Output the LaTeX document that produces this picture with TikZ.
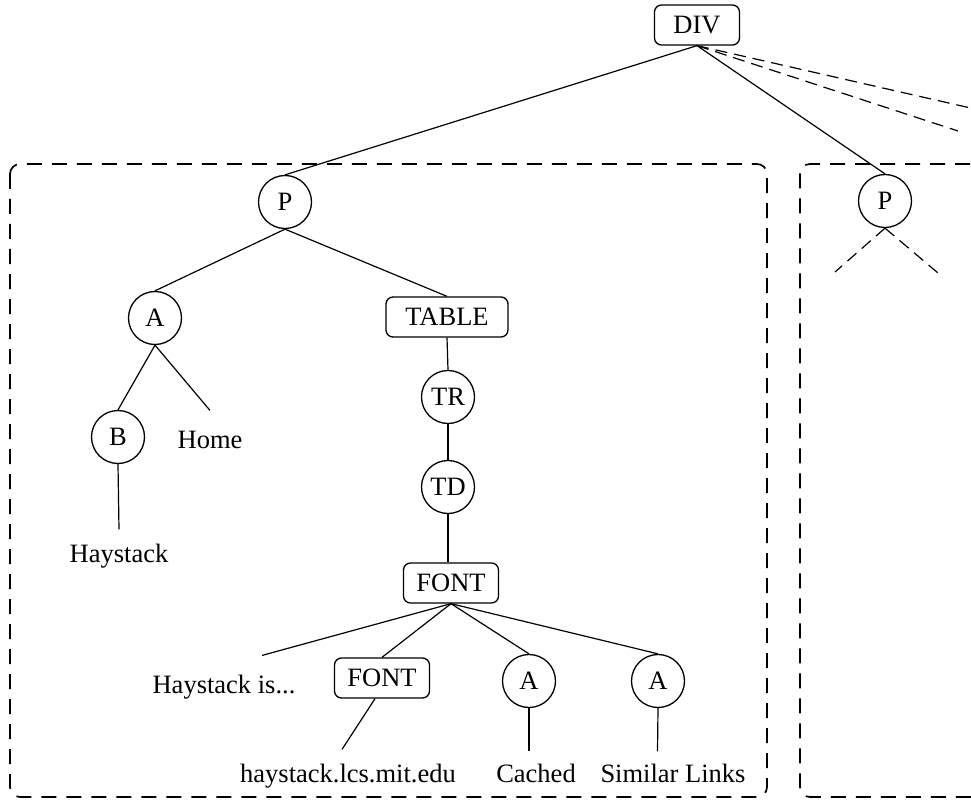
\documentclass[tikz,border=0pt]{standalone}
\usepackage{fontspec}
\setmainfont{Liberation Serif}
\begin{document}
\begin{tikzpicture}[x=1pt,y=-1pt,
  every node/.style={font=\fontsize{26.5}{32}\selectfont},
  edge/.style={line width=1.2pt},
  tag/.style={draw, line width=1.3pt, rounded corners=7pt, minimum height=40pt, inner sep=0pt},
  elem/.style={draw, circle, line width=1.3pt, minimum size=53pt, inner sep=0pt},
  leaf/.style={inner sep=0pt, anchor=base},
  region/.style={line width=1.7pt, dash pattern=on 15pt off 10pt, rounded corners=10pt},
  elided/.style={line width=1.2pt, dash pattern=on 12pt off 7pt}]
\useasboundingbox (0,0) rectangle (971,810);

% subtree regions
\draw[region] (10,164) rectangle (767,797);
\draw[region] (995,164) -- (800,164) -- (800,797) -- (995,797);

% element nodes
\node[tag, minimum width=85pt] (div) at (697,25) {DIV};
\node[elem] (p1) at (285,202) {P};
\node[elem] (p2) at (885,201) {P};
\node[elem] (a1) at (155,318) {A};
\node[tag, minimum width=122pt] (table) at (447,317) {TABLE};
\node[elem] (b) at (118,437) {B};
\node[elem] (tr) at (448,397) {TR};
\node[elem] (td) at (448,487) {TD};
\node[tag, minimum width=95pt] (font1) at (451,583) {FONT};
\node[tag, minimum width=95pt] (font2) at (382,678) {FONT};
\node[elem] (a2) at (529,681) {A};
\node[elem] (a3) at (658,681) {A};

% text leaves
\node[leaf] (home) at (210,448) {Home};
\node[leaf] (hay) at (119,562) {Haystack};
\node[leaf] (hayis) at (224,693) {Haystack is...};
\node[leaf] (url) at (348,782) {haystack.lcs.mit.edu};
\node[leaf] (cached) at (536,782) {Cached};
\node[leaf] (similar) at (673,782) {Similar Links};

% elided children
\coordinate (more1) at (975,109);
\coordinate (more2) at (958,131);
\coordinate (pl) at (835,272);
\coordinate (pr) at (938,273);

% tree edges
\draw[edge] (div.south) -- (p1.north);
\draw[edge] (div.south) -- (p2.north);
\draw[elided] (div.south) -- (more1);
\draw[elided] (div.south) -- (more2);
\draw[elided] (p2.south) -- (pl);
\draw[elided] (p2.south) -- (pr);

\draw[edge] (p1.south) -- (a1.north);
\draw[edge] (p1.south) -- (table.north);
\draw[edge] (a1.south) -- (b.north);
\draw[edge] (a1.south) -- ([yshift=20pt]home.north);
\draw[edge] (b.south) -- ([yshift=14pt]hay.north);

\draw[edge] (table.south) -- (tr.north);
\draw[edge] (tr.south) -- (td.north);
\draw[edge] (td.south) -- (td.south |- font1.north);

\draw[edge] (font1.south) -- ([xshift=38pt,yshift=19pt]hayis.north);
\draw[edge] (font1.south) -- (font2.north);
\draw[edge] (font1.south) -- (a2.north);
\draw[edge] (font1.south) -- (a3.north);

\draw[edge] ([xshift=-7pt]font2.south) -- ([xshift=-6pt,yshift=14pt]url.north);
\draw[edge] (a2.south) -- ([xshift=-7pt,yshift=12pt]cached.north);
\draw[edge] (a3.south) -- ([xshift=-15.5pt,yshift=12pt]similar.north);
\end{tikzpicture}
\end{document}
